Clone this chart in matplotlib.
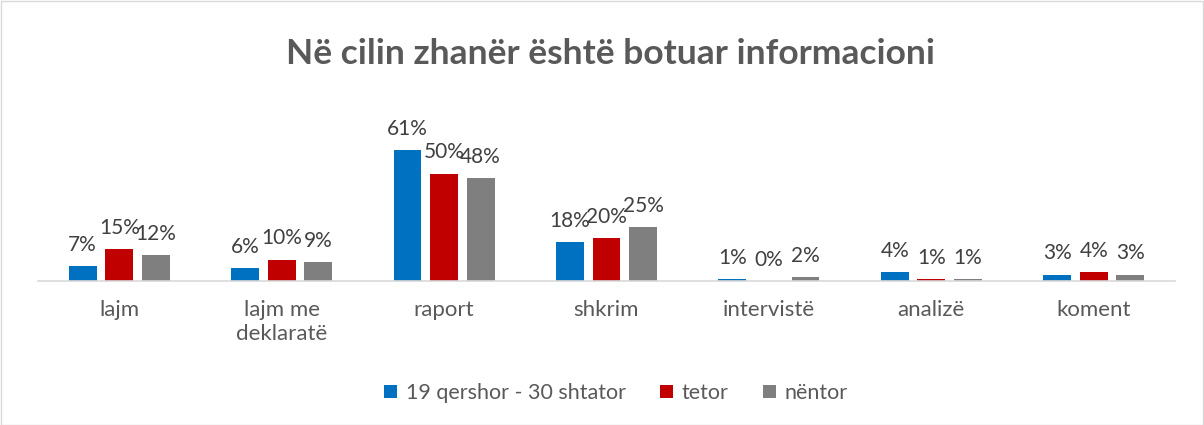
import matplotlib.pyplot as plt
from matplotlib.patches import Rectangle
import numpy as np

categories = ['lajm', 'lajm me\ndeklaratë', 'raport', 'shkrim', 'intervistë', 'analizë', 'koment']
series_names = ['19 qershor - 30 shtator', 'tetor', 'nëntor']
qershor_shtator = [7, 6, 61, 18, 1, 4, 3]
tetor = [15, 10, 50, 20, 0, 1, 4]
nentor = [12, 9, 48, 25, 2, 1, 3]
colors = ['#0070C0', '#C00000', '#7F7F7F']

plt.rcParams['font.family'] = ['Lato', 'DejaVu Sans']
txt = '#595959'

W, H = 1204, 425
fig = plt.figure(figsize=(W / 100, H / 100), dpi=100)
ax = fig.add_axes([38 / W, 144 / H, (1175 - 38) / W, 150.5 / H])

x = np.arange(len(categories))
bw = 0.172
step = 0.225
for i, vals in enumerate([qershor_shtator, tetor, nentor]):
    pos = x + (i - 1) * step
    bars = ax.bar(pos, vals, width=bw, color=colors[i], label=series_names[i])
    for b, v in zip(bars, vals):
        ax.annotate(f'{v}%', (b.get_x() + b.get_width() / 2, v),
                    xytext=(0, 8), textcoords='offset points',
                    ha='center', va='bottom', fontsize=15, color='#404040')

ax.set_xlim(-0.5, len(categories) - 0.5)
ax.set_ylim(0, 70)
ax.set_xticks(x)
ax.set_xticklabels(categories, fontsize=16, color=txt, linespacing=1.25)
ax.tick_params(axis='x', length=0, pad=14)
ax.set_yticks([])
for s in ['top', 'right', 'left']:
    ax.spines[s].set_visible(False)
ax.spines['bottom'].set_color('#D9D9D9')
ax.spines['bottom'].set_linewidth(1.2)

fig.text(611 / W, 1 - 54 / H, 'Në cilin zhanër është botuar informacioni',
         ha='center', va='center', fontsize=25.5, fontweight='bold', color=txt)

fig.legend(loc='center', bbox_to_anchor=(616 / W, 1 - 393 / H), ncol=3,
           frameon=False, fontsize=15.5, handlelength=0.6, handleheight=0.6,
           handletextpad=0.4, columnspacing=1.6, labelcolor=txt)

fig.add_artist(Rectangle((0.5 / W, 0.5 / H), 1 - 1.5 / W, 1 - 1.5 / H,
                         transform=fig.transFigure, fill=False,
                         edgecolor='#D9D9D9', linewidth=1))

fig.savefig('out.png', dpi=100)
